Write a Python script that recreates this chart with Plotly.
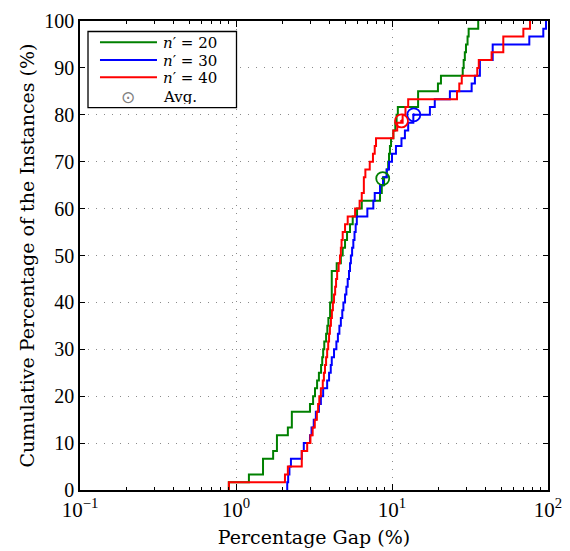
import plotly.graph_objects as go

# ---- data (percentage gap, cumulative percentage) ----
green_x = [0.90, 1.21, 1.49, 1.73, 1.83, 2.15, 2.28, 2.98, 3.12, 3.21, 3.31, 3.40, 3.51, 3.57,
           3.62, 3.68, 3.78, 3.85, 3.91, 4.01, 4.11, 4.42, 4.70, 4.83, 5.00, 5.15, 5.38, 5.60,
           5.97, 6.40, 8.38, 8.60, 8.90, 9.25, 9.45, 9.57, 9.70, 9.86, 10.2, 10.5, 10.7, 10.9,
           14.7, 19.7, 20.6, 28.4, 28.8, 29.3, 29.8, 30.5, 31.0, 35.7]
green_y = [1.67, 3.33, 6.67, 8.33, 11.67, 13.33, 16.67, 18.33, 20.0, 21.67, 23.33, 25.0, 26.67, 28.33,
           30.0, 31.67, 33.33, 35.0, 36.67, 40.0, 46.67, 48.33, 50.0, 51.67, 53.33, 55.0, 56.67, 58.33,
           60.0, 61.67, 63.33, 65.0, 66.67, 68.33, 70.0, 71.67, 73.33, 75.0, 76.67, 78.33, 80.0, 81.67,
           85.0, 86.67, 88.33, 90.0, 91.67, 93.33, 95.0, 96.67, 98.33, 100.0]

blue_x = [2.13, 2.16, 2.20, 2.25, 2.64, 2.72, 2.98, 3.05, 3.15, 3.25, 3.40, 3.50, 3.62, 3.84,
          3.95, 4.05, 4.11, 4.25, 4.40, 4.50, 4.60, 4.70, 4.80, 4.88, 5.00, 5.10, 5.20, 5.30,
          5.38, 5.45, 5.55, 5.65, 5.75, 5.85, 5.95, 6.95, 7.59, 7.75, 8.38, 8.76, 9.25, 9.57,
          10.0, 10.6, 11.5, 12.1, 12.7, 13.7, 17.5, 18.8, 23.5, 32.4, 34.0, 36.6, 44.2, 75.9,
          93.3, 97.1]
blue_y = [1.67, 3.33, 5.0, 6.67, 8.33, 10.0, 11.67, 13.33, 15.0, 16.67, 18.33, 20.0, 21.67, 23.33,
          25.0, 26.67, 28.33, 30.0, 31.67, 33.33, 35.0, 36.67, 38.33, 40.0, 41.67, 43.33, 45.0, 46.67,
          48.33, 50.0, 51.67, 53.33, 55.0, 56.67, 58.33, 60.0, 61.67, 63.33, 65.0, 66.67, 68.33, 70.0,
          71.67, 73.33, 75.0, 76.67, 78.33, 80.0, 81.67, 83.33, 85.0, 86.67, 88.33, 91.67, 95.0, 96.67,
          98.33, 100.0]

red_x = [0.90, 2.06, 2.15, 2.64, 2.86, 3.00, 3.10, 3.20, 3.30, 3.36, 3.42, 3.50, 3.60, 3.66,
         3.72, 3.78, 3.84, 3.90, 3.95, 4.00, 4.06, 4.12, 4.18, 4.25, 4.32, 4.38, 4.45, 4.55,
         4.64, 4.70, 4.75, 4.83, 5.00, 5.20, 5.80, 6.20, 6.40, 6.60, 6.75, 7.20, 7.55, 7.75,
         7.90, 10.2, 10.8, 11.7, 12.2, 12.7, 26.1, 27.0, 28.0, 35.2, 36.0, 43.5, 51.7, 69.5, 76.7]
red_y = [1.67, 3.33, 5.0, 8.33, 10.0, 11.67, 13.33, 15.0, 16.67, 18.33, 20.0, 21.67, 23.33, 25.0,
         26.67, 28.33, 30.0, 31.67, 33.33, 35.0, 36.67, 38.33, 40.0, 41.67, 43.33, 45.0, 46.67, 48.33,
         50.0, 51.67, 53.33, 55.0, 56.67, 58.33, 60.0, 61.67, 63.33, 66.67, 68.33, 70.0, 71.67, 73.33,
         75.0, 76.67, 78.33, 80.0, 81.67, 83.33, 85.0, 86.67, 88.33, 90.0, 91.67, 93.33, 96.67, 98.33, 100.0]

avg_x = [8.72, 13.8, 11.5]
avg_y = [66.4, 80.0, 78.7]

series_labels = ["20", "30", "40"]
series_colors = ["#008000", "#0000ff", "#ff0000"]
series_data = [(green_x, green_y), (blue_x, blue_y), (red_x, red_y)]

xtick_vals = [0.1, 1, 10, 100]
xtick_text = ["10<sup>−1</sup>", "10<sup>0</sup>", "10<sup>1</sup>", "10<sup>2</sup>"]
minor_vals = [m * d for d in (0.1, 1, 10) for m in range(2, 10)]

FONT = "Liberation Serif"
TFONT = "DejaVu Serif"

fig = go.Figure()
for col, (xs, ys) in zip(series_colors, series_data):
    fig.add_trace(go.Scatter(
        x=[xs[0]] + xs, y=[0] + ys, mode="lines",
        line=dict(color=col, width=2, shape="hv"), showlegend=False, cliponaxis=True))
for ax, ay, col in zip(avg_x, avg_y, series_colors):
    fig.add_trace(go.Scatter(
        x=[ax], y=[ay], mode="markers",
        marker=dict(symbol="circle-open-dot", size=13, color=col, line=dict(width=1.8, color=col)),
        showlegend=False))

# ---- manual legend (paper coordinates) ----
shapes = [dict(type="rect", xref="paper", yref="paper", x0=0.0171, x1=0.3344, y0=0.8151, y1=0.9776,
               line=dict(color="black", width=1.3), fillcolor="white", layer="above")]
row_y = [0.9546, 0.9168, 0.880, 0.8386]
annotations = []
for i, (lab, col) in enumerate(zip(series_labels, series_colors)):
    shapes.append(dict(type="line", xref="paper", yref="paper", x0=0.0427, x1=0.1645,
                       y0=row_y[i], y1=row_y[i], line=dict(color=col, width=2), layer="above"))
    annotations.append(dict(xref="paper", yref="paper", x=0.176, y=row_y[i], xanchor="left",
                            yanchor="middle", showarrow=False, height=15, borderpad=0,
                            text="<i>n</i>′ = " + lab, font=dict(family=TFONT, size=15)))
annotations.append(dict(xref="paper", yref="paper", x=0.1032, y=row_y[3], xanchor="center",
                        yanchor="middle", showarrow=False, height=15, borderpad=0, text="⊙",
                        font=dict(family="DejaVu Sans", size=17, color="#808080")))
annotations.append(dict(xref="paper", yref="paper", x=0.176, y=row_y[3], xanchor="left",
                        yanchor="middle", showarrow=False, height=15, borderpad=0, text="Avg.",
                        font=dict(family=TFONT, size=15)))

fig.update_layout(
    width=562, height=543,
    margin=dict(l=72, r=22, t=13, b=61, autoexpand=False),
    paper_bgcolor="white", plot_bgcolor="white",
    font=dict(family=FONT, size=20, color="black"),
    showlegend=False, shapes=shapes, annotations=annotations,
)
fig.update_xaxes(
    type="log", range=[-1, 2], tickvals=xtick_vals, ticktext=xtick_text,
    ticks="inside", ticklen=6, tickcolor="black", showline=True, linecolor="black", linewidth=1.5,
    mirror="ticks", showgrid=True, gridcolor="#8a8a8a", griddash="1px,7px", gridwidth=1,
    zeroline=False,
    minor=dict(tickvals=minor_vals, ticks="inside", ticklen=3, tickcolor="black", showgrid=False),
    title=dict(text="Percentage Gap (%)", font=dict(family=TFONT, size=19), standoff=10),
    tickfont=dict(size=21),
)
fig.update_yaxes(
    range=[0, 100], dtick=10, ticks="inside", ticklen=5, tickcolor="black",
    showline=True, linecolor="black", linewidth=1.5, mirror="ticks",
    showgrid=True, gridcolor="#8a8a8a", griddash="1px,7px", gridwidth=1, zeroline=False,
    title=dict(text="Cumulative Percentage of the Instances (%)", font=dict(family=TFONT, size=19),
               standoff=5),
    tickfont=dict(size=20),
)

fig.write_html("out.html")
